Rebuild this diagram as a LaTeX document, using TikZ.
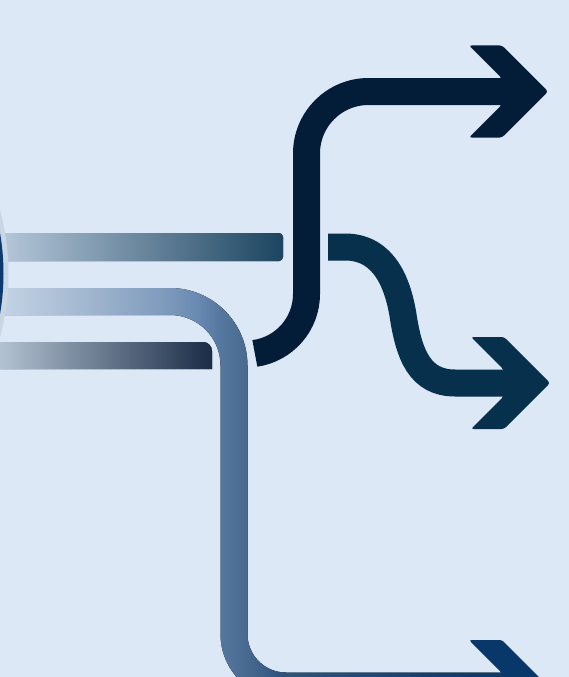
\documentclass[tikz,border=0pt]{standalone}
\definecolor{bgc}{HTML}{DCE8F5}
\definecolor{topc}{HTML}{031C37}
\definecolor{midc}{HTML}{06304C}
\definecolor{botc}{HTML}{08386A}
\definecolor{ringc}{HTML}{C9D7E5}
\definecolor{discc}{HTML}{0A3A70}
\definecolor{baraL}{HTML}{B9CADC}
\definecolor{baraR}{HTML}{1C4560}
\definecolor{barcL}{HTML}{B3C2D2}
\definecolor{barcR}{HTML}{1A2C46}
\definecolor{bb0}{HTML}{C4D4E6}
\definecolor{bb1}{HTML}{9CB2CC}
\definecolor{bb2}{HTML}{7B98BB}
\definecolor{bb3}{HTML}{6688B0}
\definecolor{bb4}{HTML}{5678A0}
\definecolor{bb5}{HTML}{47698F}
\definecolor{bb6}{HTML}{2E547F}
\definecolor{bb7}{HTML}{0D3B6C}
\pgfdeclarehorizontalshading{bartwo}{100bp}{color(0bp)=(bb0); color(25bp)=(bb0); color(34.8bp)=(bb1); color(41.67bp)=(bb2); color(44.6bp)=(bb3); color(46.57bp)=(bb4); color(49.3bp)=(bb5); color(52.45bp)=(bb6); color(71.08bp)=(bb7); color(100bp)=(bb7)}
\tikzset{
  ahead/.pic={\fill[rounded corners=2.5pt] (0,-46) -- (33,-46) -- (79,0) -- (33,46) -- (0,46) -- (32.5,13.5) -- (32.5,-13.5) -- cycle;},
  shaft/.style={line width=27pt}
}
\begin{document}
\begin{tikzpicture}[x=1pt,y=-1pt]
\useasboundingbox (0,0) rectangle (569,677);
\clip (0,0) rectangle (569,677);
\fill[bgc] (0,0) rectangle (569,677);
% bar 1
\fill[left color=baraL, right color=baraR, rounded corners=4pt] (-5,233) rectangle (283,261);
% bar 3
\fill[left color=barcL, right color=barcR] (0,342) -- (203,342) arc[start angle=-90, end angle=0, radius=9] -- (212,369) -- (0,369) -- cycle;
% bar 2
\fill[shading=bartwo]
  (0,288) -- (170,288) arc[start angle=-90, end angle=0, radius=77.5]
  -- (247.5,634) arc[start angle=180, end angle=90, radius=38.5]
  -- (510,672.5) -- (510,699.5) -- (286,699.5)
  arc[start angle=90, end angle=180, radius=65.5]
  -- (220.5,365.5) arc[start angle=0, end angle=-90, radius=50.5]
  -- (0,315) -- cycle;
% left disc
\fill[ringc] (-232.5,273.5) circle[radius=241];
\fill[discc] (-232.5,273.5) circle[radius=236];
% top arrow
\draw[topc, shaft] (254.85,353.4) arc[start angle=82, end angle=0, radius=60]
  -- (306.5,153.5) arc[start angle=180, end angle=270, radius=62] -- (509,91.5);
\pic[color=topc] at (469,91.5) {ahead};
% middle arrow
\draw[midc, shaft] (328,247) -- (345,247) .. controls (385,247) and (398,285) .. (403,315)
  .. controls (409,355) and (420,383) .. (455,383) -- (511,383);
\pic[color=midc] at (471,383) {ahead};
% bottom arrow head
\pic[color=botc] at (469,686) {ahead};
\end{tikzpicture}
\end{document}
